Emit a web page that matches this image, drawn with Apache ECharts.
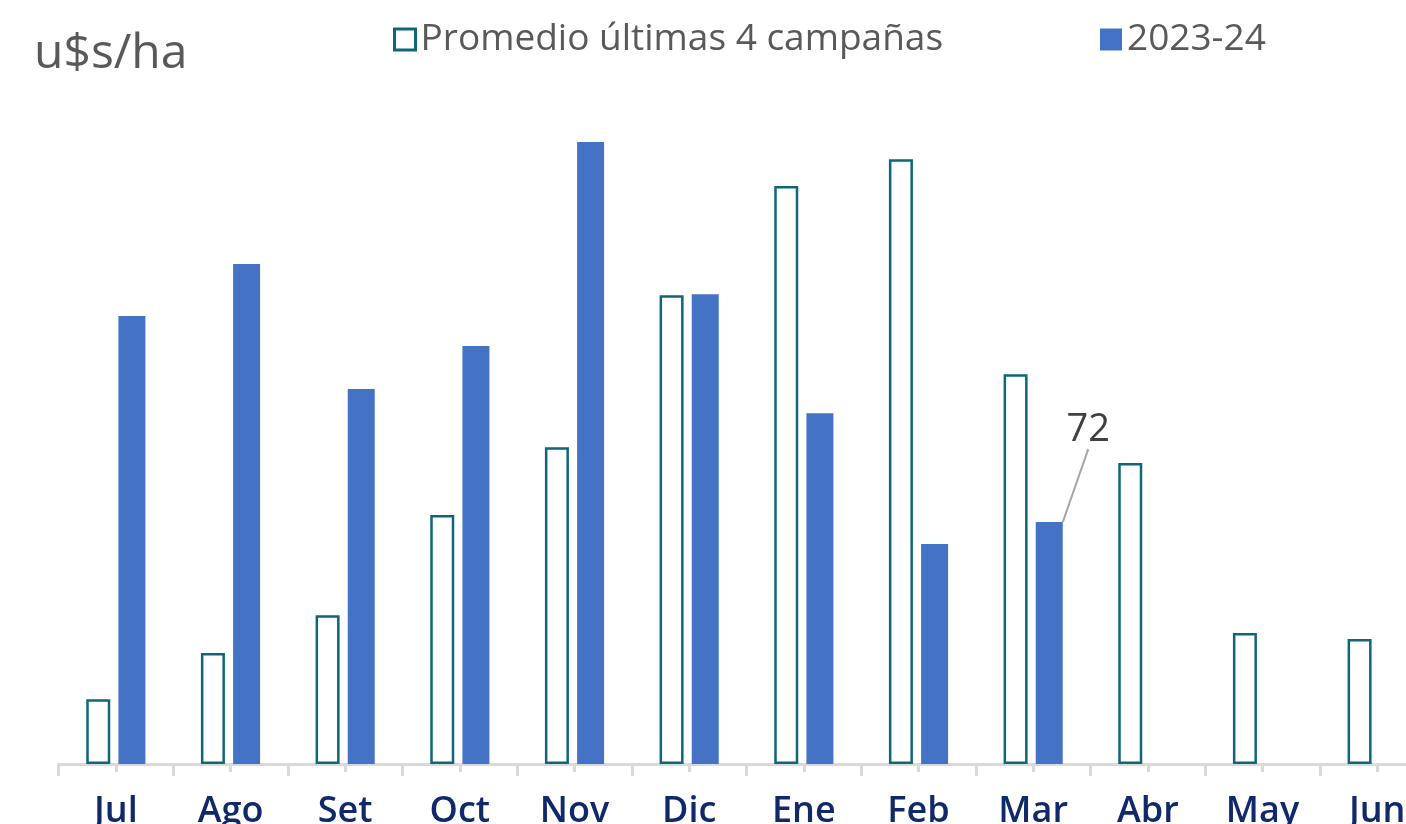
<!DOCTYPE html>
<html>
<head>
<meta charset="utf-8">
<script src="https://cdn.jsdelivr.net/npm/echarts@6/dist/echarts.min.js"></script>
<style>
html, body { margin: 0; padding: 0; background: #fff; }
#chartId { width: 1406px; height: 824px; }
</style>
</head>
<body>
<div id="chartId"></div>
<script>
// data (u$s/ha)
const months = ['Jul', 'Ago', 'Set', 'Oct', 'Nov', 'Dic', 'Ene', 'Feb', 'Mar', 'Abr', 'May', 'Jun']
const promedio = [19.3, 33.0, 44.3, 74.1, 94.3, 139.5, 172.0, 180.0, 116.0, 89.6, 39.0, 37.2]
const campania = [133.3, 148.8, 111.6, 124.4, 185.1, 139.8, 104.4, 65.5, 72, null, null, null]
const labeledMonth = 'Mar'

const teal = '#0E6679'
const blue = '#4472C4'
const font = 'Open Sans'

let campaniaData = campania.map((v, i) => {
  if (months[i] === labeledMonth) {
    return {
      value: v,
      label: {
        show: true,
        position: 'top',
        formatter: '{c}',
        fontSize: 38,
        fontFamily: font,
        color: '#404040'
      },
      labelLine: {
        show: true,
        lineStyle: { color: '#A6A6A6', width: 2 }
      }
    }
  }
  return v
})

let option = {
  animation: false,
  backgroundColor: '#fff',
  title: {
    text: 'u$s/ha',
    left: 34,
    top: 30,
    padding: 0,
    textStyle: { fontSize: 48, fontWeight: 'normal', color: '#595959', fontFamily: font }
  },
  legend: [
    {
      data: [{ name: 'Promedio últimas 4 campañas', icon: 'rect', itemStyle: { color: '#fff', borderColor: teal, borderWidth: 3 } }],
      left: 393,
      top: 21,
      padding: 0,
      itemWidth: 21,
      itemHeight: 21,
      selectedMode: false,
      textStyle: { fontSize: 37, color: '#595959', fontFamily: font }
    },
    {
      data: [{ name: '2023-24', icon: 'rect' }],
      left: 1100,
      top: 21,
      padding: 0,
      itemWidth: 22,
      itemHeight: 22,
      selectedMode: false,
      textStyle: { fontSize: 37, color: '#595959', fontFamily: font }
    }
  ],
  grid: {
    top: 92,
    bottom: 60,
    left: 58.5,
    right: -28.5,
    containLabel: false,
    outerBoundsMode: 'none'
  },
  xAxis: [
    {
      type: 'category',
      data: months,
      axisLine: { lineStyle: { color: '#D9D9D9', width: 3 } },
      axisTick: { show: true, length: 12, lineStyle: { color: '#D9D9D9', width: 3 } },
      axisLabel: {
        interval: 0,
        margin: 30,
        fontSize: 36,
        fontWeight: 600,
        color: '#10296B',
        fontFamily: font,
        hideOverlap: false
      }
    },
    {
      // short ticks at category centres
      type: 'category',
      data: months,
      position: 'bottom',
      axisLine: { show: false },
      axisTick: { show: true, alignWithLabel: true, length: 8, lineStyle: { color: '#D9D9D9', width: 3 } },
      axisLabel: { show: false }
    }
  ],
  yAxis: {
    type: 'value',
    min: 0,
    max: 200,
    show: false,
    splitLine: { show: false }
  },
  series: [
    {
      name: 'Promedio últimas 4 campañas',
      type: 'bar',
      xAxisIndex: 0,
      data: promedio,
      barWidth: 24,
      barGap: '34%',
      itemStyle: { color: '#fff', borderColor: teal, borderWidth: 2.5 }
    },
    {
      name: '2023-24',
      type: 'bar',
      xAxisIndex: 0,
      data: campaniaData,
      barWidth: 27,
      barGap: '34%',
      itemStyle: { color: blue },
      labelLayout: { dx: 39, dy: -68 }
    }
  ]
}

let chart = echarts.init(document.getElementById('chartId'))
chart.setOption(option)
</script>
</body>
</html>
